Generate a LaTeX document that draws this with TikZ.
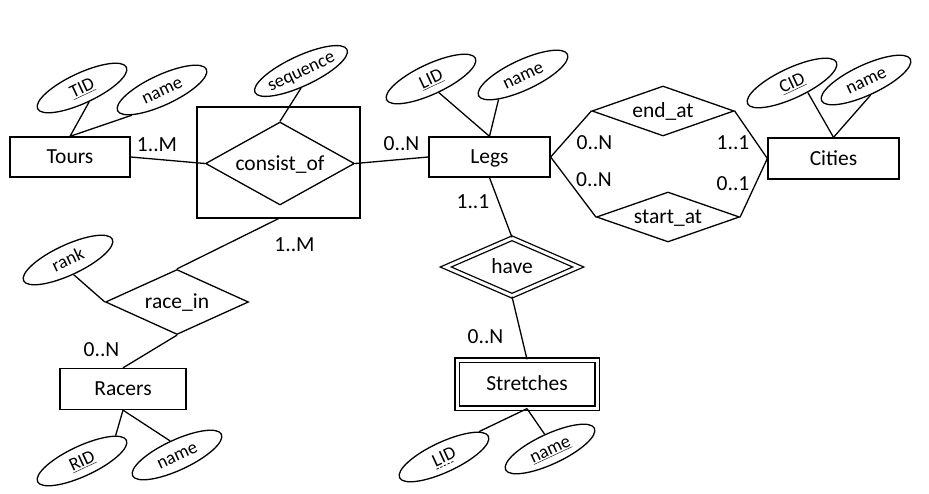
\documentclass[tikz,border=0pt]{standalone}
\usepackage{fontspec}
\setmainfont{Carlito}
\usepackage{tikz}
\usetikzlibrary{shapes.geometric}
\newcommand{\dashul}[1]{\setbox0=\hbox{#1}\leavevmode\rlap{\lower 2.5pt\hbox to 
\wd0{\leaders\hbox{\vrule height 0.7pt width 2.5pt\hskip 1.5pt}\hfill}}\box0}
\tikzstyle{entity} = [rectangle, draw=black, inner sep=0pt, text height=13.5pt, 
text depth=0pt, font=\fontsize{21.5}{24}\selectfont]
\tikzstyle{weakentity} = [entity, double, double distance=3pt]
\tikzstyle{relation} = [diamond, draw=black, inner sep=0pt, text height=13.5pt, 
text depth=0pt, font=\fontsize{21.5}{24}\selectfont]
\tikzstyle{weakrelation} = [relation, double, double distance=3pt]
\tikzstyle{attr} = [ellipse, draw=black, rotate=25, minimum width=98pt, 
minimum height=30pt, inner sep=0pt, text height=11.5pt, text depth=0pt, 
font=\fontsize{18.5}{20}\selectfont]
\tikzstyle{card} = [inner sep=0pt, text height=13.5pt, text depth=0pt, 
font=\fontsize{21.5}{24}\selectfont]

\begin{document}
\begin{tikzpicture}[x=1pt, y=-1pt, line width=1.3pt]
\useasboundingbox (0,0) rectangle (929,494);
% entities
\node[entity, minimum width=120pt, minimum height=40pt] (tours) at (70,157) {Tours};
\node[entity, minimum width=121pt, minimum height=40pt] (legs) at (489.5,157) {Legs};
\node[entity, minimum width=131pt, minimum height=41pt] (cities) at (833.5,158.5) {Cities};
\node[entity, minimum width=126pt, minimum height=41pt] (racers) at (123,389) {Racers};
\node[weakentity, minimum width=140pt, minimum height=48pt] (stretches) at (527,384) {Stretches};
% relations
\node[entity, minimum width=163pt, minimum height=111pt] (consistbox) at (278.5,162.5) {};
\node[relation, minimum width=149pt, minimum height=83pt, aspect=1.8] (consist) at (280,163.5) {consist\_of};
\node[relation, minimum width=142pt, minimum height=50pt, aspect=2.84] (endat) at (663,111) {end\_at};
\node[relation, minimum width=143pt, minimum height=50pt, aspect=2.86] (startat) at (668,217) {start\_at};
\node[relation, minimum width=143pt, minimum height=65pt, aspect=2.2] (racein) at (177,302) {race\_in};
\node[weakrelation, minimum width=133pt, minimum height=58pt, aspect=2.27] (have) at (512,267) {have};
% attributes
\node[attr] (tid) at (82,88) {\underline{TID}};
\node[attr] (tname) at (162,90) {name};
\node[attr] (seq) at (301,71) {sequence};
\node[attr] (llid) at (431,79) {\underline{LID}};
\node[attr] (lname) at (523,75) {name};
\node[attr] (cid) at (792,83) {\underline{CID}};
\node[attr] (cname) at (866,80) {name};
\node[attr] (rank) at (68,260) {rank};
\node[attr] (rid) at (82,461) {\underline{RID}};
\node[attr] (rname) at (177,455) {name};
\node[attr] (slid) at (444,457) {\dashul{LID}};
\node[attr] (sname) at (550,449) {\underline{name}};
% attribute links
\draw (tours.north) -- (tid.272);
\draw (tours.north) -- (tname.195);
\draw (consist.north) -- (seq.245);
\draw (legs.north) -- (llid.275);
\draw (legs.north) -- (lname.200);
\draw (cities.north) -- (cid.304);
\draw (cities.north) -- (cname.262);
\draw (racein.west) -- (rank.266);
\draw (racers.south) -- (rid.12);
\draw (racers.south) -- (rname.91);
\draw (stretches.south) -- (slid.11);
\draw (stretches.south) -- (sname.85);
% relation links
\draw (tours.east) -- (consist.west);
\draw (consist.east) -- (legs.west);
\draw (consistbox.south) -- (racein.north);
\draw (racein.south) -- (racers.north);
\draw (legs.east) -- (endat.west);
\draw (legs.east) -- (startat.west);
\draw (cities.west) -- (endat.east);
\draw (cities.west) -- (startat.east);
\draw (legs.south) -- (have.north);
\draw (have.south) -- (stretches.north);
% cardinalities
\node[card] (ctours) at (157,145) {1..M};
\node[card] (clegs) at (401.5,144) {0..N};
\node[card] (cendleg) at (594.5,143) {0..N};
\node[card] (cstartleg) at (594,180) {0..N};
\node[card] (cendcity) at (733,143) {1..1};
\node[card] (cstartcity) at (733,183.5) {0..1};
\node[card] (chave) at (473,201.5) {1..1};
\node[card] (cstretch) at (485.5,337) {0..N};
\node[card] (crace) at (294.5,244.5) {1..M};
\node[card] (cracer) at (101.5,350) {0..N};
\end{tikzpicture}
\end{document}
